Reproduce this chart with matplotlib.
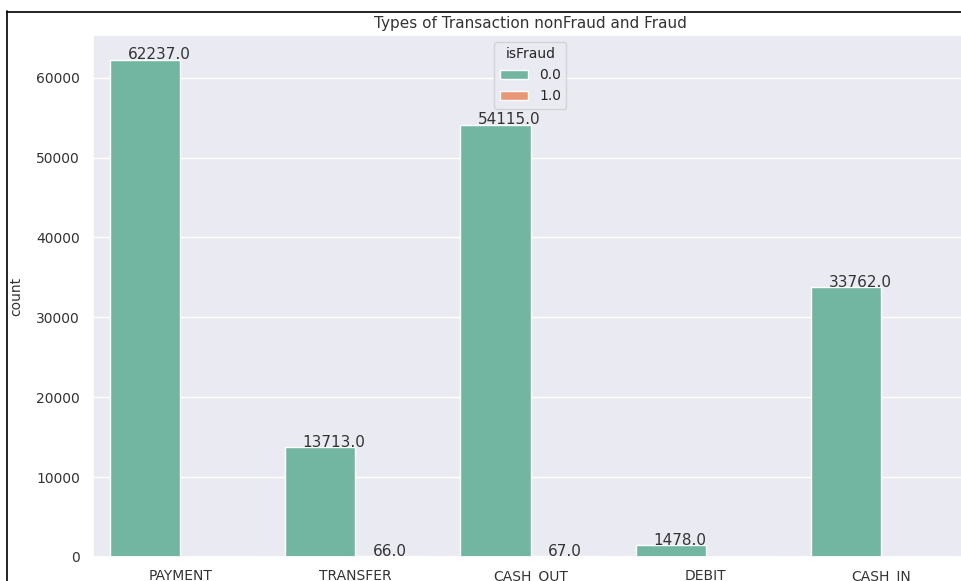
import matplotlib
matplotlib.use("Agg")
import matplotlib.pyplot as plt
import numpy as np
import seaborn as sns
from matplotlib.lines import Line2D

categories = ["PAYMENT", "TRANSFER", "CASH_OUT", "DEBIT", "CASH_IN"]
hue_levels = ["0.0", "1.0"]
counts_nonfraud = [62237, 13713, 54115, 1478, 33762]
counts_fraud = [0, 66, 67, 0, 0]
title = "Types of Transaction nonFraud and Fraud"

sns.set_theme(style="darkgrid")
plt.rcParams['font.family'] = ['DejaVu Sans']

fig = plt.figure(figsize=(9.62, 5.81), dpi=100)
ax = fig.add_axes([92.5/962, 24/581, 876/962, 522/581])

pal = sns.color_palette("Set2", 2)
pal = [sns.desaturate(c, 0.75) for c in pal]

x = np.arange(len(categories))
w = 0.4
series = [counts_nonfraud, counts_fraud]
for i, (vals, lab) in enumerate(zip(series, hue_levels)):
    xs = x - 0.4 + w * i
    bars = ax.bar(xs, vals, width=w, align="edge", color=pal[i],
                  edgecolor="white", linewidth=1, label=lab)
    for b, v in zip(bars, vals):
        if v > 0:
            ax.annotate(f"{float(v)}", (b.get_x() + 0.1, b.get_height() + 50),
                        fontsize=11, color="#333333")

ax.set_xlim(-0.5, len(categories) - 0.5)
ax.set_ylim(0, max(counts_nonfraud) * 1.05)
ax.set_xticks(x)
ax.set_xticklabels(categories)
ax.set_yticks([0, 10000, 20000, 30000, 40000, 50000, 60000])
ax.grid(axis="x", visible=False)
ax.tick_params(axis="both", labelsize=10, pad=9, colors="#333333", length=0)
ax.set_ylabel("count", fontsize=10, color="#333333", labelpad=9)
ax.set_title(title, fontsize=11, color="#333333", pad=5)
leg = ax.legend(title="isFraud", loc="upper center", fontsize=10, title_fontsize=10,
                handlelength=2.0, frameon=True)
leg.get_frame().set_edgecolor("#cccccc")

# screenshot frame lines
fig.add_artist(Line2D([7.5/962, 7.5/962], [0, 1 - 11/581], transform=fig.transFigure,
                      color="black", linewidth=1.2))
fig.add_artist(Line2D([7.5/962, 1], [1 - 11.5/581, 1 - 11.5/581], transform=fig.transFigure,
                      color="black", linewidth=1.2))

fig.savefig("out.png", dpi=100)
